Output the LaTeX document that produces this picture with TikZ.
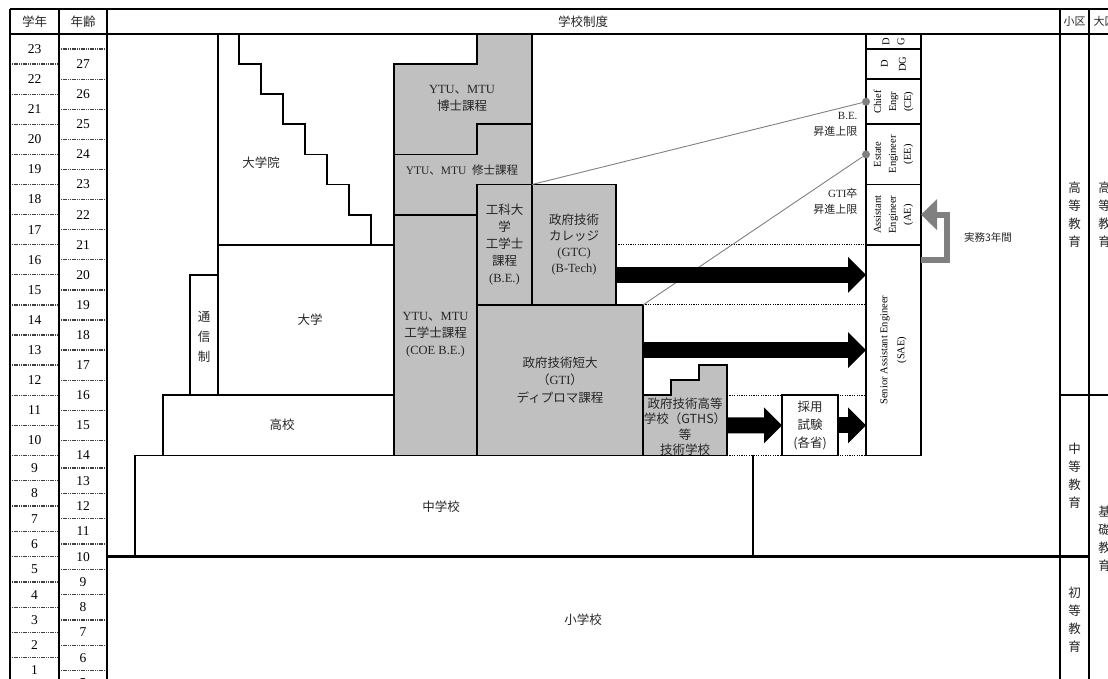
\documentclass[tikz,border=0pt]{standalone}
\usepackage{fontspec}
\setmainfont{Liberation Serif}
\newfontfamily\jpfont{Noto Sans CJK JP}
\newcommand{\jp}[1]{{\jpfont #1}}
\usetikzlibrary{arrows.meta}

\definecolor{blockgray}{RGB}{192,192,192}
\definecolor{linkgray}{RGB}{128,128,128}

% y of the line on top of grade #1 (grades 10-23: 30.1 high, grades 1-9: 25.3 high)
\pgfmathdeclarefunction{gy}{1}{%
  \pgfmathparse{(#1>=9)*(34+(23-#1)*30.1)+(#1<9)*(455.4+(9-#1)*25.3)}%
}

\begin{document}
\begin{tikzpicture}[x=1pt, y=-1pt,
    block/.style n args={3}{
        draw,
        line width=1.8pt,
        fill=#1,
        minimum width=#2,
        minimum height=#3,
        inner sep=0pt,
        outer sep=0pt
    },
    framerule/.style={line width=2.4pt},
    wallline/.style={line width=1.8pt},
    gridtick/.style={line width=1.3pt, black!75, dash pattern=on 1.2pt off 0.6pt},
    guideline/.style={line width=0.9pt, dash pattern=on 1.2pt off 1.2pt},
    jtext/.style={font=\jpfont\fontsize{12.5}{17}\selectfont, align=center, text=black!85},
    mixtext/.style={font=\fontsize{12.5}{17}\selectfont, align=center, text=black!85},
    numtext/.style={font=\fontsize{13.5}{14}\selectfont},
    posttext/.style={rotate=90, font=\fontsize{10.5}{15}\selectfont, align=center},
    notetext/.style={font=\fontsize{11}{16}\selectfont, align=right, anchor=east, text=black!85},
    linkdot/.style={circle, fill=linkgray, minimum size=8pt, inner sep=0pt},
    linkline/.style={linkgray, line width=0.9pt},
    flowarrow/.style={line width=16pt, -{Triangle[length=18pt,width=35pt]}},
    returnarrow/.style={linkgray, line width=6pt, line join=miter, -{Triangle[length=16pt,width=30pt]}}
]
\useasboundingbox (0,0) rectangle (1108,678);
\clip (0,0) rectangle (1108,678);

% ---- grade / age columns ----
\foreach \g in {23,...,1}
    \node[numtext] (gr\g) at (34.5,{(gy(\g)+gy(\g-1))/2}) {\g};
\foreach \n in {22,...,1}
    \draw[gridtick] (10,{gy(\n)}) -- (59,{gy(\n)});
\foreach \a in {27,...,5}
    \node[numtext] (age\a) at (83,{gy(\a-5)}) {\a};
\foreach \g in {23,...,1}
    \draw[gridtick] (59,{(gy(\g)+gy(\g-1))/2}) -- (107,{(gy(\g)+gy(\g-1))/2});

% ---- university side (white) ----
\draw[wallline] (727,{gy(9)}) -- (135,{gy(9)}) -- (135,{gy(5)})
    (753,{gy(5)}) -- (753,{gy(9)});
\draw[wallline] (163,{gy(9)}) -- (163,{gy(11)}) -- (394,{gy(11)});
\draw[wallline] (190,{gy(11)}) -- (190,{gy(15)}) -- (218,{gy(15)});
\draw[wallline] (218,{gy(11)}) -- (218,34);
\draw[wallline] (218,{gy(16)}) -- (394,{gy(16)});
\draw[wallline] (239,34) \foreach \k in {0,...,5} { |- ({261+22*\k},{gy(22-\k)}) }
    -- (371,{gy(16)});

% ---- engineering blocks (gray) ----
\draw[wallline, fill=blockgray] (394,{gy(22)}) -- (477,{gy(22)}) -- (477,34) -- (532,34)
    -- (532,{gy(20)}) -- (477,{gy(20)}) -- (477,{gy(19)}) -- (394,{gy(19)}) -- cycle;
\draw[wallline, fill=blockgray] (394,{gy(19)}) -- (477,{gy(19)}) -- (477,{gy(20)}) -- (532,{gy(20)})
    -- (532,{gy(18)}) -- (477,{gy(18)}) -- (477,{gy(17)}) -- (394,{gy(17)}) -- cycle;
\node[block={blockgray}{83pt}{240.8pt}] (coe) at (435.5,335) {};
\node[block={blockgray}{55pt}{120.4pt}] (be) at (504.5,244.7) {};
\node[block={blockgray}{84pt}{120.4pt}] (gtc) at (574,244.7) {};
\node[block={blockgray}{166pt}{150.5pt}] (gti) at (560,380.15) {};
\draw[wallline, fill=blockgray] (643,{gy(9)}) -- (643,{gy(11)}) -- (671,{gy(11)}) -- (671,380.15)
    -- (699,380.15) -- (699,{gy(12)}) -- (727,{gy(12)}) -- (727,{gy(9)}) -- cycle;
\coordinate (gths) at (727,{gy(10)});

% ---- posts ladder ----
\node[block={white}{55pt}{15.05pt}] (dg) at (893.5,41.525) {};
\node[block={white}{55pt}{30.1pt}] (ddg) at (893.5,64.1) {};
\node[block={white}{55pt}{45.15pt}] (ce) at (893.5,101.725) {};
\node[block={white}{55pt}{60.2pt}] (ee) at (893.5,154.4) {};
\node[block={white}{55pt}{60.2pt}] (ae) at (893.5,214.6) {};
\node[block={white}{55pt}{210.7pt}] (sae) at (893.5,350.05) {};
\node[posttext] at (dg.center) {D\\G};
\node[posttext, font=\fontsize{10.5}{18}\selectfont] at (ddg.center) {D\\DG};
\node[posttext] at (ce.center) {Chief\\Engr\\(CE)};
\node[posttext] at (ee.center) {Estate\\Engineer\\(EE)};
\node[posttext] at (ae.center) {Assistant\\Engineer\\(AE)};
\node[posttext, font=\fontsize{10.5}{17}\selectfont] at (sae.center)
    {Senior Assistant Engineer\\(SAE)};

% ---- dotted guides ----
\draw[guideline] (gtc.east) -- (gtc.east -| sae.west);
\draw[guideline] (gti.north east) -- (gti.north east -| sae.west);
\draw[guideline] (727,{gy(11)}) -- (866,{gy(11)});
\draw[guideline] (727,{gy(9)}) -- (866,{gy(9)});

\node[block={white}{56pt}{60.2pt}] (exam) at (810,425.3) {};

% ---- frame ----
\draw[framerule] (10,9) -- (1120,9);
\draw[framerule] (10,34) -- (1120,34);
\foreach \x in {10,59,107,1060,1089}
    \draw[framerule] (\x,9) -- (\x,690);
\draw[framerule] (1060,{gy(11)}) -- (1120,{gy(11)});
\draw[framerule] (107,{gy(5)}) -- (1089,{gy(5)});

% ---- header ----
\node[jtext] (hgrade) at (34.5,21.5) {学年};
\node[jtext] (hage) at (83,21.5) {年齢};
\node[jtext] (hsys) at (583,21.5) {学校制度};
\node[jtext, font=\jpfont\fontsize{11}{13}\selectfont] (hsmall) at (1074.5,21.5) {小区};
\node[jtext, font=\jpfont\fontsize{11}{13}\selectfont] (hlarge) at (1104.5,21.5) {大区};

% ---- stage columns ----
\node[jtext, font=\jpfont\fontsize{12.5}{18}\selectfont] (sHigher) at (1074.5,{(34+gy(11))/2}) {高\\等\\教\\育};
\node[jtext, font=\jpfont\fontsize{12.5}{18}\selectfont] (sMiddle) at (1074.5,{(gy(11)+gy(5))/2}) {中\\等\\教\\育};
\node[jtext, font=\jpfont\fontsize{12.5}{18}\selectfont] (sPrimary) at (1074.5,{(gy(5)+683)/2}) {初\\等\\教\\育};
\node[jtext, font=\jpfont\fontsize{12.5}{18}\selectfont] (lHigher) at (1104.5,{(34+gy(11))/2}) {高\\等\\教\\育};
\node[jtext, font=\jpfont\fontsize{12.5}{18}\selectfont] (lBasic) at (1104.5,{(gy(11)+683)/2}) {基\\礎\\教\\育};

% ---- school labels ----
\node[jtext] (elem) at (583,620) {小学校};
\node[jtext] (junior) at (441,507) {中学校};
\node[jtext] (high) at (282,425) {高校};
\node[jtext, font=\jpfont\fontsize{12.5}{20}\selectfont] (corr) at (204,337) {通\\信\\制};
\node[jtext] (univ) at (310,320) {大学};
\node[jtext] (grad) at (261,163) {大学院};
\node[mixtext] (phd) at (462,98) {YTU\jp{、}MTU\\\jp{博士課程}};
\node[mixtext, font=\fontsize{11.5}{14}\selectfont] (msc) at (462,170) {YTU\jp{、}MTU\ \ \jp{修士課程}};
\node[mixtext] at (coe.center) {YTU\jp{、}MTU\\\jp{工学士課程}\\(COE B.E.)};
\node[mixtext] at (be.center) {\jp{工科大}\\\jp{学}\\\jp{工学士}\\\jp{課程}\\(B.E.)};
\node[mixtext, font=\fontsize{12.5}{16}\selectfont] at (gtc.center)
    {\jp{政府技術}\\\jp{カレッジ}\\(GTC)\\(B-Tech)};
\node[mixtext, font=\fontsize{12.5}{17.5}\selectfont] at (gti.center)
    {\jp{政府技術短大}\\\jp{（}GTI\jp{）}\\\jp{ディプロマ課程}};
\node[jtext, font=\jpfont\fontsize{12.5}{15.5}\selectfont] (gthstext) at (685,426.5)
    {政府技術高等\\学校（GTHS）\\等\\技術学校};
\node[jtext, font=\jpfont\fontsize{12.5}{18}\selectfont] at (exam.center) {採用\\試験\\(各省)};

% ---- promotion limits ----
\node[linkdot] (cedot) at (ce.west) {};
\node[linkdot] (eedot) at (ee.west) {};
\draw[linkline] (be.north east) -- (cedot);
\draw[linkline] (gti.north east) -- (eedot);
\node[notetext] (benote) at (861,124) {B.E.\\\jp{昇進上限}};
\node[notetext] (gtinote) at (861,201) {GTI\jp{卒}\\\jp{昇進上限}};

% ---- flows ----
\coordinate (yGTC) at (0,{gy(15)});
\coordinate (yGTI) at (0,350.05);
\coordinate (yBack) at (0,260);
\draw[flowarrow] (gtc.east |- yGTC) -- (sae.west |- yGTC);
\draw[flowarrow] (gti.east |- yGTI) -- (sae.west |- yGTI);
\draw[flowarrow] (gths) -- (exam.west);
\draw[flowarrow] (exam.east) -- (exam.east -| sae.west);
\draw[returnarrow] (sae.east |- yBack) -- ++(26,0) |- (ae.east);
\node[jtext, font=\jpfont\fontsize{10.5}{12}\selectfont] (practice) at (988,237) {実務3年間};

\end{tikzpicture}
\end{document}
